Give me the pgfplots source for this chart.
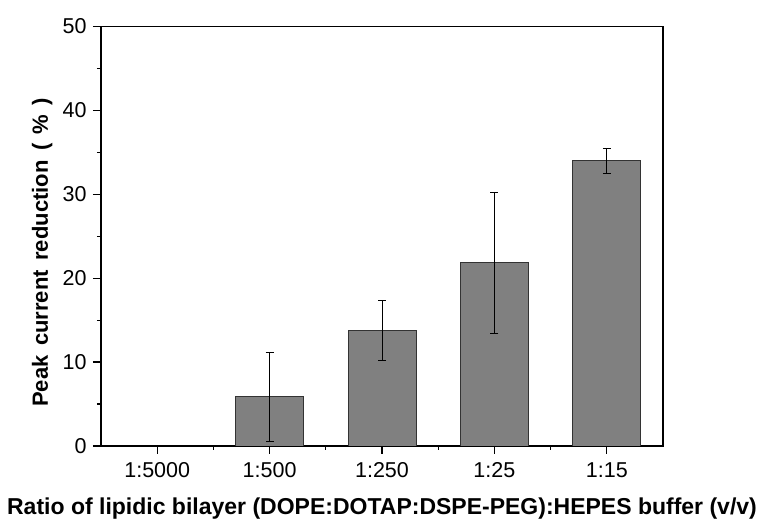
\documentclass[border=0pt]{standalone}
\usepackage{fontspec}
\setmainfont{Liberation Sans}
\usepackage{pgfplots}
\pgfplotsset{compat=1.18}

% mean peak current reduction (%) and standard deviation per dilution
\pgfplotstableread{
x y err
1 5.9 5.3
2 13.8 3.6
3 21.85 8.4
4 34.0 1.5
}\reduction

\begin{document}
\begin{tikzpicture}
\begin{axis}[
  name=ax,
  scale only axis,
  width=562pt, height=419.5pt,
  xmin=-0.5, xmax=4.5, ymin=0, ymax=50,
  xtick={0,1,2,3,4},
  xticklabels={1:5000,1:500,1:250,1:25,1:15},
  minor xtick={0.5,1.5,2.5,3.5},
  ytick={0,10,20,30,40,50},
  minor ytick={5,15,25,35,45},
  tick align=outside,
  tick pos=left,
  major tick length=8pt,
  minor tick length=4pt,
  every tick/.style={black, line width=1.2pt},
  axis line style={black, line width=1.3pt},
  /pgf/number format/assume math mode=true,
  ticklabel style={font=\fontsize{21.5}{25}\selectfont},
  xticklabel style={yshift=-5pt},
  yticklabel style={xshift=-3pt},
  xlabel={\bfseries Ratio of lipidic bilayer (DOPE:DOTAP:DSPE-PEG):HEPES buffer (v/v)},
  ylabel={\bfseries\spaceskip=9.5pt Peak current reduction ( \% )},
  xlabel style={font=\fontsize{23}{27}\selectfont, at={(axis description cs:0.5,0)}, anchor=base, yshift=-69pt},
  ylabel style={font=\fontsize{22}{26}\selectfont, at={(axis description cs:0,0.5)}, anchor=base, yshift=53pt, xshift=-16pt},
]
\addplot[ybar, bar width=68pt, fill=black!50, draw=black!80, line width=0.8pt,
  error bars/.cd, y dir=both, y explicit,
  error bar style={black, line width=0.9pt},
  error mark options={rotate=90, mark size=4pt, black, line width=0.9pt}]
  table[x=x, y=y, y error=err] {\reduction};
\end{axis}
\pgfresetboundingbox
\path ([shift={(-101pt,-77pt)}]ax.south west) rectangle ([shift={(94pt,26.5pt)}]ax.north east);
\end{tikzpicture}
\end{document}
